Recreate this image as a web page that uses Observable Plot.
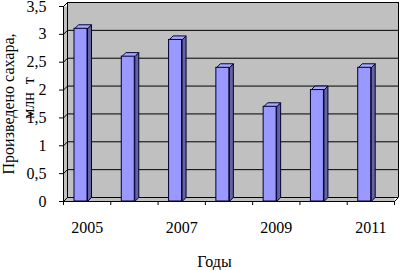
<!DOCTYPE html>
<html><head><meta charset="utf-8">
<script src="https://cdn.jsdelivr.net/npm/d3@7"></script>
<script src="https://cdn.jsdelivr.net/npm/@observablehq/plot@0.6"></script>
<style>body{margin:0;background:#fff}</style>
</head><body><div id="chart"></div>
<script>
// ---- data ----
const years = [2005, 2006, 2007, 2008, 2009, 2010, 2011];
const values = [3.1, 2.6, 2.9, 2.4, 1.7, 2.0, 2.4];
const xLabels = [2005, 2007, 2009, 2011];
const yTicks = [0, 0.5, 1, 1.5, 2, 2.5, 3, 3.5];
const yTitle1 = "Произведено сахара,";
const yTitle2 = "млн\u00a0\u00a0т";
const xTitle = "Годы";

// ---- derived ----
const data = years.map((year, i) => ({year, value: values[i]}));
const xDomain = [years[0] - 0.5, years[years.length - 1] + 0.5];
const yDomain = [0, yTicks[yTicks.length - 1]];
const bounds = years.map(y => y - 0.5).concat([xDomain[1]]);

// ---- style ----
const D = 4;             // 3D depth in px
const inL = 11, inR = 23.3;
const wallFill = "#c0c0c0";
const frontFill = "#9999ff";
const sideFill = "#64649e";
const topFill = "#a9a9ff";
const edge = "#000033";

function wallEdges(index, scales) {
  const {x, y} = scales;
  const g = d3.create("svg:g").attr("transform", "translate(0.5,0.5)").attr("stroke", "black").attr("fill", "none");
  const x0 = x(xDomain[0]);
  yTicks.forEach(t => {
    g.append("line").attr("x1", x0).attr("y1", y(t)).attr("x2", x0 + D).attr("y2", y(t) - D);
  });
  const x1 = x(xDomain[1]);
  g.append("line").attr("x1", x1).attr("y1", y(0)).attr("x2", x1 + D).attr("y2", y(0) - D);
  return g.node();
}

function bars3d(index, scales) {
  const {x, y} = scales;
  const g = d3.create("svg:g").attr("transform", "translate(0.5,0.5)").attr("stroke", edge);
  data.forEach(d => {
    const xl = x(d.year - 0.5) + inL, xr = x(d.year + 0.5) - inR;
    const yt = y(d.value), yb = y(0);
    g.append("polygon")
      .attr("points", [[xr, yt], [xr + D, yt - D], [xr + D, yb - D], [xr, yb]].join(" "))
      .attr("fill", sideFill);
    g.append("polygon")
      .attr("points", [[xl, yt], [xl + D, yt - D], [xr + D, yt - D], [xr, yt]].join(" "))
      .attr("fill", topFill);
  });
  return g.node();
}

const chart = Plot.plot({
  width: 400,
  height: 270,
  marginLeft: 63,
  marginRight: 6,
  marginTop: 6,
  marginBottom: 69,
  style: {fontFamily: "Liberation Serif", fontSize: "16px", color: "black", background: "white"},
  x: {type: "linear", domain: xDomain},
  y: {type: "linear", domain: yDomain},
  marks: [
    Plot.frame({fill: wallFill, stroke: null}),
    Plot.frame({fill: wallFill, stroke: null, dx: D, dy: -D}),
    Plot.ruleY(yTicks, {stroke: "black", dx: D, dy: -D}),
    Plot.ruleX(xDomain, {y1: yDomain[0], y2: yDomain[1], stroke: "black", dx: D, dy: -D}),
    wallEdges,
    bars3d,
    Plot.rect(data, {
      x1: d => d.year - 0.5, x2: d => d.year + 0.5, y1: 0, y2: "value",
      insetLeft: inL, insetRight: inR, fill: frontFill, stroke: edge
    }),
    Plot.ruleX([xDomain[0]], {y1: yDomain[0], y2: yDomain[1], stroke: "black"}),
    Plot.ruleY([0], {stroke: "black"}),
    Plot.axisY(yTicks, {tickSize: 4, tickPadding: 13, tickFormat: d => String(d).replace(".", ","), label: null, stroke: "black"}),
    Plot.axisX(xLabels, {tickSize: 0, tickPadding: 20, tickFormat: d => String(d), label: null}),
    Plot.axisX(bounds, {tickSize: 4, tickFormat: () => "", label: null, stroke: "black"}),
    Plot.text([yTitle1], {frameAnchor: "left", textAnchor: "middle", lineAnchor: "middle", rotate: -90, dx: -55, dy: 0, fill: "black"}),
    Plot.text([yTitle2], {frameAnchor: "left", textAnchor: "middle", lineAnchor: "middle", rotate: -90, dx: -35, dy: -6, fill: "black"}),
    Plot.text([xTitle], {frameAnchor: "bottom", textAnchor: "middle", lineAnchor: "middle", dx: -14.5, dy: 60, fill: "black"})
  ]
});
document.getElementById("chart").append(chart);
</script>
</body></html>
